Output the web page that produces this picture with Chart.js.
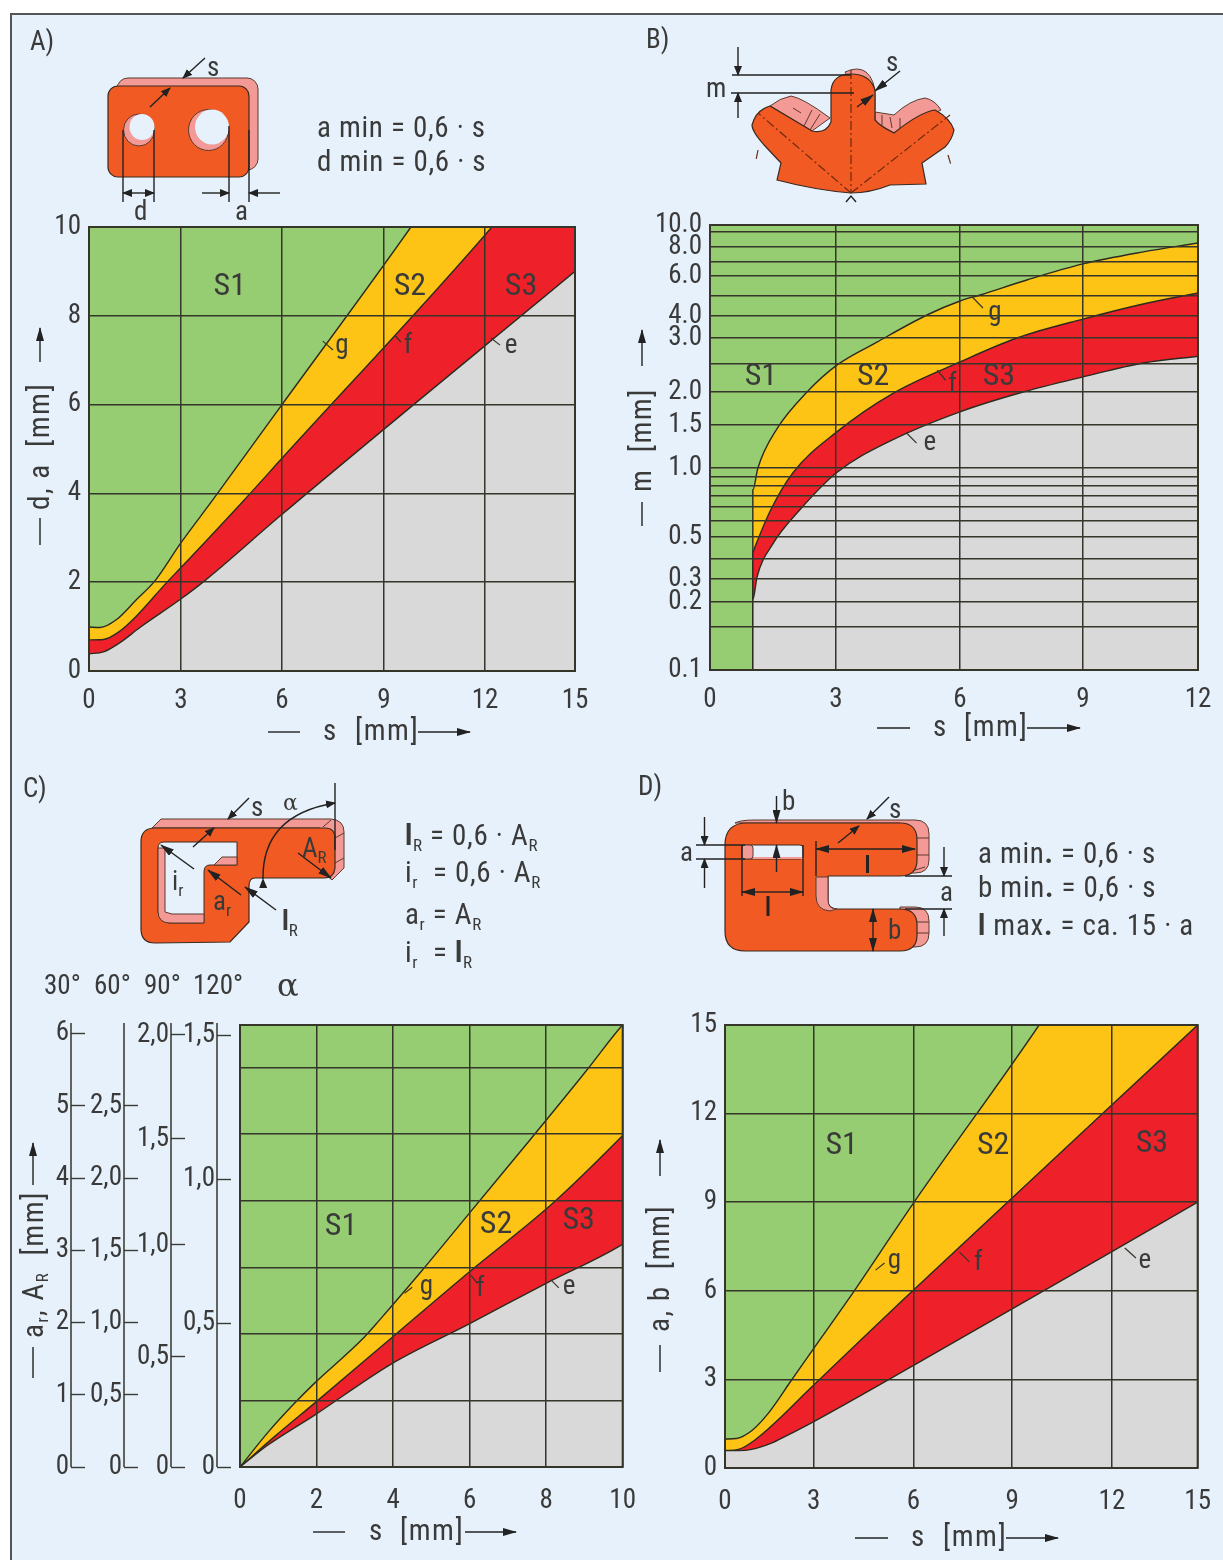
<!DOCTYPE html>
<html>
<head>
<meta charset="utf-8">
<script src="https://cdn.jsdelivr.net/npm/chart.js@4"></script>
<style>
  html, body { margin: 0; padding: 0; background: #fff; }
  #page { position: relative; width: 1223px; height: 1560px; overflow: hidden; background: #fff; }
  #sheet { position: absolute; left: 10px; top: 13px; width: 1213px; height: 1547px; background: #e6f1fb;
           border-left: 2px solid #555; border-top: 2px solid #555; box-sizing: border-box; }
  canvas { position: absolute; }
  #art { position: absolute; left: 0; top: 0; }
  #art text { font-family: "Roboto Condensed", "Roboto", sans-serif; font-size: 27px; fill: #3a3a3a; }
  #art .sub { font-size: 17px; }
  #art .eq { font-size: 29px; letter-spacing: 0.7px; }
  #art .ttl { font-size: 29px; letter-spacing: 1.5px; }
  #art line, #art .ln { stroke: #222; stroke-width: 1.4; fill: none; }
  #art .hx { stroke: #5a3a30; stroke-width: 1; }
  #art .dd { stroke: #6b2a10; stroke-width: 1.2; stroke-dasharray: 9 3 2 3; }
  #art .front { fill: #f15a22; stroke: #3a2a20; stroke-width: 1.2; }
  #art .back { fill: #f49a96; stroke: #5a3a30; stroke-width: 1; }
  #art .hole { fill: #e6f1fb; stroke: #3a2a20; stroke-width: 1; }
</style>
</head>
<body>
<div id="page">
  <div id="sheet"></div>
  <canvas id="chartA" width="566" height="524" style="left:39px;top:197px"></canvas>
  <canvas id="chartB" width="578" height="525" style="left:650px;top:195px"></canvas>
  <canvas id="chartC" width="614" height="522" style="left:40px;top:995px"></canvas>
  <canvas id="chartD" width="564" height="523" style="left:665px;top:995px"></canvas>

  <svg id="art" width="1223" height="1560" viewBox="0 0 1223 1560">
    <defs>
      <marker id="ar" markerWidth="10" markerHeight="8" refX="9" refY="4" orient="auto" markerUnits="userSpaceOnUse">
        <path d="M0,0 L10,4 L0,8 Z" fill="#222"/>
      </marker>
      <marker id="arl" markerWidth="14" markerHeight="8" refX="13" refY="4" orient="auto" markerUnits="userSpaceOnUse">
        <path d="M0,0 L14,4 L0,8 Z" fill="#222"/>
      </marker>
    </defs>

    <!-- A -->
    <text x="30" y="50">A)</text>
    <rect class="back" x="117" y="78" width="141" height="92" rx="11"/>
    <rect class="front" x="108" y="86" width="141" height="91" rx="10"/>
    <ellipse class="back" cx="139" cy="130" rx="15.5" ry="16"/>
    <ellipse class="hole" cx="142" cy="127" rx="12.5" ry="13" style="stroke:none"/>
    <ellipse class="back" cx="208.500" cy="130" rx="20" ry="20.500"/>
    <ellipse class="hole" cx="212" cy="127" rx="17" ry="17.500" style="stroke:none"/>
    <line x1="123" y1="130" x2="123" y2="202"/><line x1="154" y1="130" x2="154" y2="202"/>
    <line x1="229" y1="126" x2="229" y2="202"/><line x1="249" y1="130" x2="249" y2="202"/>
    <line x1="139" y1="193" x2="123" y2="193" marker-end="url(#ar)"/>
    <line x1="139" y1="193" x2="154" y2="193" marker-end="url(#ar)"/>
    <line x1="202" y1="193" x2="229" y2="193" marker-end="url(#ar)"/>
    <line x1="280" y1="193" x2="249" y2="193" marker-end="url(#ar)"/>
    <line x1="205" y1="58" x2="183" y2="78" marker-end="url(#ar)"/>
    <line x1="150" y1="107" x2="170" y2="88" marker-end="url(#ar)"/>
    <text x="207" y="76">s</text>
    <text x="134" y="220">d</text><text x="235" y="220">a</text>
    <text class="eq" x="317" y="137">a min = 0,6 · s</text>
    <text class="eq" x="317" y="171">d min = 0,6 · s</text>
    <!-- A axis titles -->
    <line x1="40" y1="545" x2="40" y2="518"/>
    <text class="ttl" transform="translate(49,510) rotate(-90)">d, a&#160;&#160;[mm]</text>
    <line x1="40" y1="362" x2="40" y2="328" marker-end="url(#arl)"/>
    <line x1="268" y1="732" x2="300" y2="732"/>
    <text class="ttl" x="323" y="740">s</text><text class="ttl" x="355" y="740">[mm]</text>
    <line x1="418" y1="732" x2="470" y2="732" marker-end="url(#arl)"/>

    <!-- B -->
    <text x="646" y="48">B)</text>
    <path class="back" d="M770,106 Q780,98 791,96 Q803,98 830,118 L812,131 Z"/>
    <path class="back" d="M875,112 L894,115 Q910,100 925,98 Q935,100 941,110 L894,133 L875,123 Z"/>
    <path class="back" d="M845,72 Q858,66 866,72 Q875,80 875,95 L875,110 L860,100 Z"/>
    <line class="hx" x1="793" y1="108" x2="801" y2="113"/><line class="hx" x1="803" y1="128" x2="812" y2="110"/><line class="hx" x1="810" y1="130" x2="820" y2="114"/>
    <line class="hx" x1="882" y1="115" x2="882" y2="125"/><line class="hx" x1="890" y1="117" x2="892" y2="128"/><line class="hx" x1="900" y1="118" x2="900" y2="130"/>
    <path class="front" d="M831,122 L831,90 Q833,74 851,74 Q870,74 875,90 L875,120 Q880,126 894,133 Q920,112 935,110 Q950,118 954,130 Q952,140 945,147 L922,163 L926,184 L890,185 Q870,193 851,193 Q815,190 777,180 L781,163 L766,147 Q752,132 752,125 Q756,110 770,106 L812,131 Q826,134 831,122 Z"/>
    <line class="dd" x1="851" y1="70" x2="851" y2="193"/>
    <line class="dd" x1="851" y1="193" x2="758" y2="113"/>
    <line class="dd" x1="851" y1="193" x2="950" y2="115"/>
    <line class="dd" x1="758" y1="150" x2="756" y2="160"/>
    <line class="dd" x1="948" y1="155" x2="951" y2="165"/>
    <line x1="732" y1="75" x2="851" y2="75"/><line x1="731" y1="93" x2="854" y2="93"/>
    <line x1="738" y1="47" x2="738" y2="75" marker-end="url(#ar)"/>
    <line x1="738" y1="118" x2="738" y2="93" marker-end="url(#ar)"/>
    <line x1="900" y1="71" x2="875" y2="91" marker-end="url(#arl)"/>
    <line x1="857" y1="107" x2="873" y2="95" marker-end="url(#arl)"/>
    <path class="ln" d="M846,202 L851,196 L856,202"/>
    <text x="706" y="97">m</text><text x="886" y="71">s</text>
    <!-- B axis titles -->
    <line x1="642" y1="526" x2="642" y2="502"/>
    <text class="ttl" transform="translate(651,492) rotate(-90)">m&#160;&#160;[mm]</text>
    <line x1="642" y1="366" x2="642" y2="330" marker-end="url(#arl)"/>
    <line x1="877" y1="728" x2="910" y2="728"/>
    <text class="ttl" x="933" y="736">s</text><text class="ttl" x="964" y="736">[mm]</text>
    <line x1="1027" y1="728" x2="1080" y2="728" marker-end="url(#arl)"/>

    <!-- C -->
    <text x="23" y="797">C)</text>
    <path class="back" d="M152,828 L161,819 L331,819 Q344,820 344,832 L344,868 L332,880 L320,870 L320,828 Z"/>
    <path class="back" d="M249,884 L237,930 L228,930 L228,884 Z"/>
    <line class="hx" x1="323" y1="827" x2="331" y2="820"/><line class="hx" x1="335" y1="838" x2="344" y2="833"/><line class="hx" x1="335" y1="863" x2="344" y2="858"/>
    <path class="front" d="M155,828 L325,828 Q335,828 335,838 L335,868 Q334,878 324,878 L255,878 Q249,878 249,886 L249,922 L230,942 L155,943 Q141,943 141,929 L141,842 Q141,828 155,828 Z"/>
    <path class="hole" d="M158,848 Q158,842 164,842 L237,842 L237,865 L210,865 Q204,865 204,872 L204,923 L170,923 Q158,923 158,911 Z"/>
    <path class="back" d="M158,848 L165,848 L165,912 L172,914 L204,914 L204,923 L170,923 Q158,923 158,911 Z"/>
    <path class="back" d="M214,865 L222,857 L237,857 L237,865 Z"/>
    <line x1="249" y1="798" x2="228" y2="819" marker-end="url(#ar)"/>
    <line x1="193" y1="847" x2="214" y2="828" marker-end="url(#ar)"/>
    <line x1="335" y1="783" x2="335" y2="850"/>
    <path class="ln" d="M263,879 Q262,815 335,803" marker-start="url(#ar)" marker-end="url(#ar)"/>
    <line x1="298" y1="853" x2="331" y2="878" marker-end="url(#arl)"/>
    <line x1="194" y1="869" x2="161" y2="845" marker-end="url(#arl)"/>
    <line x1="241" y1="895" x2="208" y2="870" marker-end="url(#arl)"/>
    <line x1="276" y1="910" x2="245" y2="887" marker-end="url(#arl)"/>
    <text x="251" y="816">s</text>
    <text x="283" y="810" style="font-family:'DejaVu Serif',serif;font-size:22px">α</text>
    <text x="302" y="857">A<tspan class="sub" dy="6">R</tspan></text>
    <text x="172" y="890">i<tspan class="sub" dy="6">r</tspan></text>
    <text x="213" y="910">a<tspan class="sub" dy="6">r</tspan></text>
    <text x="282" y="930" font-weight="bold">l<tspan class="sub" dy="6" font-weight="normal">R</tspan></text>
    <text class="eq" x="405" y="845" font-weight="bold">l<tspan class="sub" dy="6" font-weight="normal">R</tspan><tspan dy="-6" font-weight="normal"> = 0,6 · A</tspan><tspan class="sub" dy="6" font-weight="normal">R</tspan></text>
    <text class="eq" x="405" y="882">i<tspan class="sub" dy="6">r</tspan><tspan dy="-6">&#160;&#160;= 0,6 · A</tspan><tspan class="sub" dy="6">R</tspan></text>
    <text class="eq" x="405" y="924">a<tspan class="sub" dy="6">r</tspan><tspan dy="-6"> = A</tspan><tspan class="sub" dy="6">R</tspan></text>
    <text class="eq" x="405" y="962">i<tspan class="sub" dy="6">r</tspan><tspan dy="-6">&#160;&#160;= </tspan><tspan font-weight="bold">l</tspan><tspan class="sub" dy="6">R</tspan></text>
    <text x="44" y="994">30°</text><text x="94" y="994">60°</text><text x="144" y="994">90°</text><text x="193" y="994">120°</text>
    <text x="277" y="996" style="font-family:'DejaVu Serif',serif;font-size:32px">α</text>
    <!-- C axis titles -->
    <line x1="33" y1="1378" x2="33" y2="1347"/>
    <text class="ttl" transform="translate(43,1338) rotate(-90)">a<tspan class="sub" dy="5">r</tspan><tspan dy="-5">, A</tspan><tspan class="sub" dy="5">R</tspan><tspan dy="-5">&#160;&#160;[mm]</tspan></text>
    <line x1="33" y1="1185" x2="33" y2="1143" marker-end="url(#arl)"/>
    <line x1="313" y1="1532" x2="345" y2="1532"/>
    <text class="ttl" x="369" y="1540">s</text><text class="ttl" x="400" y="1540">[mm]</text>
    <line x1="465" y1="1532" x2="516" y2="1532" marker-end="url(#arl)"/>

    <!-- D -->
    <text x="638" y="795">D)</text>
    <path class="back" d="M735,823 Q740,820 755,820 L915,820 Q929,820 929,834 L929,860 Q929,873 915,873 L900,873 L900,823 Z"/>
    <path class="back" d="M900,907 L915,907 Q929,907 929,921 L929,933 Q929,947 915,947 L900,947 Z"/>
    <line class="hx" x1="917" y1="838" x2="929" y2="838"/><line class="hx" x1="917" y1="855" x2="929" y2="855"/><line class="hx" x1="915" y1="870" x2="925" y2="867"/>
    <line class="hx" x1="917" y1="922" x2="929" y2="922"/><line class="hx" x1="917" y1="933" x2="929" y2="933"/>
    <path class="front" d="M747,823 L900,823 Q917,823 917,840 L917,860 Q917,876 900,876 L828,876 L828,900 Q828,909 837,909 L900,909 Q917,909 917,925 L917,935 Q917,951 900,951 L745,951 Q725,951 725,931 L725,845 Q725,823 747,823 Z"/>
    <path class="back" d="M816,877 L828,877 L828,900 Q828,909 837,909 L830,911 Q816,910 816,896 Z"/>
    <rect class="hole" x="742" y="845" width="61" height="14" rx="3"/>
    <rect class="back" x="742" y="845" width="11" height="14" rx="3"/>
    <line x1="753" y1="858" x2="803" y2="858" style="stroke:#f49a96;stroke-width:2"/>
    <line x1="776.500" y1="796" x2="776.500" y2="823" marker-end="url(#arl)"/>
    <line x1="889" y1="797" x2="867" y2="819" marker-end="url(#ar)"/>
    <line x1="838" y1="843" x2="859" y2="826" marker-end="url(#ar)"/>
    <line x1="696" y1="845" x2="745" y2="845"/><line x1="696" y1="859" x2="745" y2="859"/>
    <line x1="704.500" y1="817" x2="704.500" y2="845" marker-end="url(#ar)"/>
    <line x1="704.500" y1="888" x2="704.500" y2="859" marker-end="url(#ar)"/>
    <line x1="776.500" y1="872" x2="776.500" y2="845" marker-end="url(#arl)"/>
    <line x1="742" y1="845" x2="742" y2="896"/><line x1="803" y1="845" x2="803" y2="896"/>
    <line x1="772" y1="892" x2="742" y2="892" marker-end="url(#arl)"/>
    <line x1="772" y1="892" x2="803" y2="892" marker-end="url(#arl)"/>
    <line x1="816" y1="841" x2="816" y2="876"/>
    <line x1="866" y1="849" x2="816" y2="849" marker-end="url(#arl)"/>
    <line x1="866" y1="849" x2="915" y2="849" marker-end="url(#arl)"/>
    <rect x="766.500" y="896" width="3" height="20" fill="#222"/>
    <rect x="866" y="855" width="3" height="18" fill="#222"/>
    <line x1="905" y1="876" x2="952" y2="876"/><line x1="905" y1="909" x2="952" y2="909"/>
    <line x1="944" y1="847" x2="944" y2="876" marker-end="url(#ar)"/>
    <line x1="944" y1="936" x2="944" y2="909" marker-end="url(#ar)"/>
    <line x1="873" y1="930" x2="873" y2="909" marker-end="url(#arl)"/>
    <line x1="873" y1="930" x2="873" y2="951" marker-end="url(#arl)"/>
    <text x="782" y="810">b</text><text x="889" y="818">s</text><text x="680" y="861">a</text>
    <text x="940" y="901">a</text><text x="888" y="939">b</text>
    <text class="eq" x="978" y="863">a min<tspan font-weight="bold">.</tspan> = 0,6 · s</text>
    <text class="eq" x="978" y="897">b min<tspan font-weight="bold">.</tspan> = 0,6 · s</text>
    <text class="eq" x="978" y="935"><tspan font-weight="bold">l</tspan> max<tspan font-weight="bold">.</tspan> = ca. 15 · a</text>
    <!-- D axis titles -->
    <line x1="660" y1="1372" x2="660" y2="1345"/>
    <text class="ttl" transform="translate(669,1332) rotate(-90)">a, b&#160;&#160;[mm]</text>
    <line x1="660" y1="1176" x2="660" y2="1140" marker-end="url(#arl)"/>
    <line x1="855" y1="1538" x2="888" y2="1538"/>
    <text class="ttl" x="911" y="1546">s</text><text class="ttl" x="943" y="1546">[mm]</text>
    <line x1="1006" y1="1538" x2="1058" y2="1538" marker-end="url(#arl)"/>
  </svg>
</div>

<script>
// panel A
const aTicksX = [0, 3, 6, 9, 12, 15];
const aTicksY = [0, 2, 4, 6, 8, 10];
const aGs = [0, 0.36, 0.9, 1.55, 2.15, 3, 3.96, 6, 9.8, 15];
const aGv = [0.99, 0.98, 1.16, 1.61, 2.03, 2.89, 3.87, 6, 10, 15.4];
const aFs = [0, 0.47, 1.01, 1.55, 2.53, 3, 4.9, 6, 12.23, 15];
const aFv = [0.7, 0.71, 0.9, 1.24, 1.99, 2.33, 3.87, 4.79, 10, 12.3];
const aEs = [0, 0.47, 1.01, 1.66, 2.97, 3.7, 5.94, 15];
const aEv = [0.39, 0.43, 0.64, 0.98, 1.61, 2.03, 3.49, 9];
const aNames = ['S1', 'S2', 'S3', 'g', 'f', 'e'];
const aNameS = [4.45, 9.77, 13.2, 7.76, 9.71, 12.87];
const aNameV = [8.65, 8.65, 8.65, 7.32, 7.32, 7.32];
const aLeaders = [[7.5, 7.23, 7.2, 7.43], [9.5, 7.41, 9.33, 7.55], [12.5, 7.34, 12.2, 7.5]];

// panel B
const bTicksX = [0, 3, 6, 9, 12];
const bGrid = [0.1, 0.15, 0.2, 0.3, 0.4, 0.5, 0.55, 0.6, 0.7, 0.8, 0.9, 1, 1.5, 2, 2.5, 3, 4, 5, 6, 7, 8, 9, 10];
const bLabelled = [0.1, 0.2, 0.3, 0.5, 1, 1.5, 2, 3, 4, 6, 8, 10];
const bGs = [1.02, 1.02, 1.14, 1.6, 2.31, 3.02, 3.99, 5.2, 6, 6.49, 7.63, 9, 10.57, 12];
const bGv = [0.1, 0.76, 1, 1.46, 2, 2.48, 2.92, 4.05, 4.75, 5.05, 5.8, 6.86, 7.67, 8.27];
const bFs = [1.02, 1.02, 1.07, 1.43, 1.98, 3.02, 4.38, 6, 7.39, 9, 10.57, 12];
const bFv = [0.1, 0.43, 0.455, 0.585, 0.95, 1.42, 1.98, 2.54, 3, 3.86, 4.6, 5.15];
const bEs = [1.02, 1.02, 1.12, 1.5, 2.14, 3.02, 4.38, 6, 7.54, 9, 10.57, 12];
const bEv = [0.1, 0.21, 0.31, 0.47, 0.59, 0.95, 1.33, 1.7, 2, 2.27, 2.52, 2.65];
const bNames = ['S1', 'S2', 'S3', 'g', 'f', 'e'];
const bNameS = [1.21, 3.9, 6.95, 6.85, 5.82, 5.27];
const bNameV = [2.27, 2.27, 2.27, 4.15, 2.12, 1.29];
const bLeaders = [[6.56, 4.4, 6.3, 4.95], [5.65, 2.21, 5.45, 2.39], [4.95, 1.29, 4.7, 1.41]];

// panel C, curves in grid units of the plot
const cTicksX = [0, 2, 4, 6, 8, 10];
const cGridY = [0, 1, 2, 3, 4, 5, 6];
const cTicks6 = [0, 1, 2, 3, 4, 5, 6];
const cTicks3 = [0, 0.5, 1, 1.5, 2, 2.5];
const cTicks2 = [0, 0.5, 1, 1.5, 2];
const cTicks15 = [0, 0.5, 1, 1.5];
const cGs = [0, 0.73, 1.43, 1.95, 3.18, 3.65, 4.74, 5.99, 7.63, 9.06, 9.95, 10];
const cGv = [0, 0.52, 0.96, 1.26, 1.91, 2.21, 2.94, 3.81, 4.95, 5.96, 6.61, 6.64];
const cFs = [0, 0.91, 1.95, 3.98, 5.99, 8.15, 9.95, 10];
const cFv = [0, 0.46, 0.96, 1.95, 2.93, 3.95, 4.95, 4.98];
const cEs = [0, 0.73, 1.95, 3.96, 5.99, 8, 9.95, 10];
const cEv = [0, 0.33, 0.78, 1.55, 2.15, 2.76, 3.33, 3.35];
const cNames = ['S1', 'S2', 'S3', 'g', 'f', 'e'];
const cNameS = [2.64, 6.69, 8.85, 4.87, 6.28, 8.6];
const cNameV = [3.6, 3.63, 3.69, 2.7, 2.67, 2.7];
const cLeaders = [[4.5, 2.7, 4.3, 2.61], [6.2, 2.76, 6.04, 2.88], [8.33, 2.69, 8.125, 2.81]];

// panel D
const dTicksX = [0, 3, 6, 9, 12, 15];
const dTicksY = [0, 3, 6, 9, 12, 15];
const dGs = [0, 0.39, 0.9, 1.46, 2.25, 3, 4.03, 6, 9.81, 15];
const dGv = [0.98, 1, 1.26, 1.85, 2.98, 4.05, 5.69, 8.97, 15, 23.2];
const dFs = [0, 0.45, 1.01, 3, 5.68, 15];
const dFv = [0.59, 0.63, 0.95, 2.81, 5.69, 15];
const dEs = [0, 0.45, 0.9, 1.57, 2.02, 3, 6.03, 15];
const dEv = [0.59, 0.59, 0.63, 0.84, 1.06, 1.57, 3.49, 9];
const dNames = ['S1', 'S2', 'S3', 'g', 'f', 'e'];
const dNameS = [3.84, 8.42, 13.4, 5.43, 7.97, 13.15];
const dNameV = [10.9, 10.9, 10.97, 7.01, 6.94, 7.01];
const dLeaders = [[5.13, 6.94, 4.86, 6.7], [7.7, 6.98, 7.4, 7.31], [12.84, 7.11, 12.45, 7.45]];

const FONT = '"Roboto Condensed", "Roboto", sans-serif';
const GREEN = '#96cc72', YELLOW = '#fdc415', RED = '#ee2029', GREY = '#d9d9d9', INK = '#3a3a3a';

// the printed axes are not evenly spaced, so values are mapped through stops
const warps = {
  aX: { v: [0, 3, 6, 9, 12, 15], f: [0, 0.1893, 0.3971, 0.607, 0.8148, 1] },
  dX: { v: [0, 3, 6, 9, 12, 15], f: [0, 0.1878, 0.3987, 0.6076, 0.8186, 1] },
  bX: { v: [0, 3, 6, 9, 12], f: [0, 0.2582, 0.5123, 0.7643, 1] },
  bY: {
    v: bGrid,
    f: [0, 0.0966, 0.1528, 0.2045, 0.2494, 0.2988, 0.3348, 0.3663, 0.3910, 0.4135, 0.4337, 0.4539, 0.5506, 0.6247, 0.6876, 0.7461, 0.7955, 0.8405, 0.8854, 0.9169, 0.9506, 0.9843, 1]
  },
  cY2: { v: [0, 0.5, 1, 1.5, 2, 2.05], f: [0, 0.2489, 0.5023, 0.7421, 0.9774, 1] }
};

class StopScale extends Chart.LinearScale {
  static id = 'stops';
  static defaults = Chart.LinearScale.defaults;
  getPixelForValue(value) {
    const w = warps[this.options.warp];
    let i = 0;
    while (i < w.v.length - 2 && value > w.v[i + 1]) i++;
    const t = (value - w.v[i]) / (w.v[i + 1] - w.v[i]);
    return this.getPixelForDecimal(w.f[i] + t * (w.f[i + 1] - w.f[i]));
  }
}
Chart.register(StopScale);

function pts(xs, ys) {
  return xs.map((x, i) => ({ x: x, y: ys[i] }));
}

function curves(es, ev, fs, fv, gs, gv) {
  const line = { borderColor: '#2b2b20', borderWidth: 1.4, pointRadius: 0, cubicInterpolationMode: 'monotone' };
  return [
    Object.assign({ label: 'e', data: pts(es, ev), fill: 'start', backgroundColor: GREY }, line),
    Object.assign({ label: 'f', data: pts(fs, fv), fill: 0, backgroundColor: RED }, line),
    Object.assign({ label: 'g', data: pts(gs, gv), fill: 1, backgroundColor: YELLOW }, line)
  ];
}

function axis(extra, size, vertical, values, label, pad) {
  return Object.assign({
    grid: { color: '#35352a', lineWidth: 1.5, z: 1, drawTicks: false },
    border: { display: false },
    afterBuildTicks: s => { s.ticks = values.map(v => ({ value: v })); },
    afterFit: s => { if (vertical) s.width = size; else s.height = size; },
    ticks: {
      color: INK, font: { family: FONT, size: 27 }, padding: pad || (vertical ? 8 : 14),
      autoSkip: false, maxRotation: 0, callback: label || (v => String(v))
    }
  }, extra);
}

// side scale of panel C: the tick runs right of the rail, the label sits left of it
function sideAxis(id, extra, size, weight, values) {
  return Object.assign({
    axis: 'y', position: 'left', weight: weight,
    grid: { drawOnChartArea: false, drawTicks: true, tickLength: 14, tickColor: INK, tickWidth: 1.4 },
    border: { display: false },
    beforeUpdate: s => { s._computeLabelArea = () => undefined; },
    afterBuildTicks: s => { s.ticks = values.map(v => ({ value: v })); },
    afterFit: s => { s.width = size; },
    ticks: {
      color: INK, font: { family: FONT, size: 27 }, padding: 2, autoSkip: false,
      callback: v => (id === 'y6' || v === 0) ? String(v) : v.toFixed(1).replace('.', ',')
    }
  }, extra);
}

function panel(names, nameX, nameY, leaders, rails) {
  return {
    id: 'panel',
    beforeDraw(chart) {
      const a = chart.chartArea;
      chart.ctx.fillStyle = GREEN;
      chart.ctx.fillRect(a.left, a.top, a.width, a.height);
    },
    afterDraw(chart) {
      const ctx = chart.ctx, a = chart.chartArea;
      const sx = chart.scales.x, sy = chart.scales.y;
      ctx.save();
      ctx.strokeStyle = '#35352a';
      ctx.lineWidth = 2;
      ctx.strokeRect(a.left, a.top, a.width, a.height);
      ctx.lineWidth = 1.2;
      leaders.forEach(l => {
        ctx.beginPath();
        ctx.moveTo(sx.getPixelForValue(l[0]), sy.getPixelForValue(l[1]));
        ctx.lineTo(sx.getPixelForValue(l[2]), sy.getPixelForValue(l[3]));
        ctx.stroke();
      });
      ctx.fillStyle = INK;
      ctx.textAlign = 'center';
      ctx.textBaseline = 'middle';
      names.forEach((n, i) => {
        ctx.font = (n[0] === 'S' ? 32 : 27) + 'px ' + FONT;
        ctx.fillText(n, sx.getPixelForValue(nameX[i]), sy.getPixelForValue(nameY[i]));
      });
      (rails || []).forEach(id => {
        const s = chart.scales[id];
        ctx.lineWidth = 1.5;
        ctx.beginPath();
        ctx.moveTo(s.right - 14, a.top - 2);
        ctx.lineTo(s.right - 14, a.bottom);
        ctx.stroke();
      });
      ctx.restore();
    }
  };
}

const common = { responsive: false, animation: false, events: [], plugins: { legend: { display: false }, tooltip: { enabled: false } } };
const pad = { top: 30, right: 30 };

new Chart(document.getElementById('chartA'), {
  type: 'line',
  data: { datasets: curves(aEs, aEv, aFs, aFv, aGs, aGv) },
  options: Object.assign({}, common, {
    layout: { padding: pad },
    scales: {
      x: axis({ type: 'stops', warp: 'aX', min: 0, max: 15 }, 50, false, aTicksX),
      y: axis({ type: 'linear', min: 0, max: 10 }, 50, true, aTicksY)
    }
  }),
  plugins: [panel(aNames, aNameS, aNameV, aLeaders)]
});

new Chart(document.getElementById('chartB'), {
  type: 'line',
  data: { datasets: curves(bEs, bEv, bFs, bFv, bGs, bGv) },
  options: Object.assign({}, common, {
    layout: { padding: pad },
    scales: {
      x: axis({ type: 'stops', warp: 'bX', min: 0, max: 12 }, 50, false, bTicksX),
      y: axis({ type: 'stops', warp: 'bY', min: 0.1, max: 10 }, 60, true, bGrid,
        v => bLabelled.includes(v) ? v.toFixed(1) : '')
    }
  }),
  plugins: [panel(bNames, bNameS, bNameV, bLeaders)]
});

new Chart(document.getElementById('chartC'), {
  type: 'line',
  data: { datasets: curves(cEs, cEv, cFs, cFv, cGs, cGv) },
  options: Object.assign({}, common, {
    layout: { padding: pad },
    scales: {
      x: axis({ type: 'linear', min: 0, max: 10 }, 50, false, cTicksX, null, 18),
      y: axis({ type: 'linear', min: 0, max: 6.64, weight: 0, ticks: { display: false } }, 9, true, cGridY),
      y15: sideAxis('y15', { type: 'linear', min: 0, max: 1.535 }, 46, 1, cTicks15),
      y2: sideAxis('y2', { type: 'stops', warp: 'cY2', min: 0, max: 2.05 }, 47, 2, cTicks2),
      y3: sideAxis('y3', { type: 'linear', min: 0, max: 3.06 }, 53, 3, cTicks3),
      y6: sideAxis('y6', { type: 'linear', min: 0, max: 6.12 }, 45, 4, cTicks6)
    }
  }),
  plugins: [panel(cNames, cNameS, cNameV, cLeaders, ['y6', 'y3', 'y2', 'y15'])]
});

new Chart(document.getElementById('chartD'), {
  type: 'line',
  data: { datasets: curves(dEs, dEv, dFs, dFv, dGs, dGv) },
  options: Object.assign({}, common, {
    layout: { padding: pad },
    scales: {
      x: axis({ type: 'stops', warp: 'dX', min: 0, max: 15 }, 50, false, dTicksX, null, 18),
      y: axis({ type: 'linear', min: 0, max: 15 }, 60, true, dTicksY)
    }
  }),
  plugins: [panel(dNames, dNameS, dNameV, dLeaders)]
});
</script>
</body>
</html>
